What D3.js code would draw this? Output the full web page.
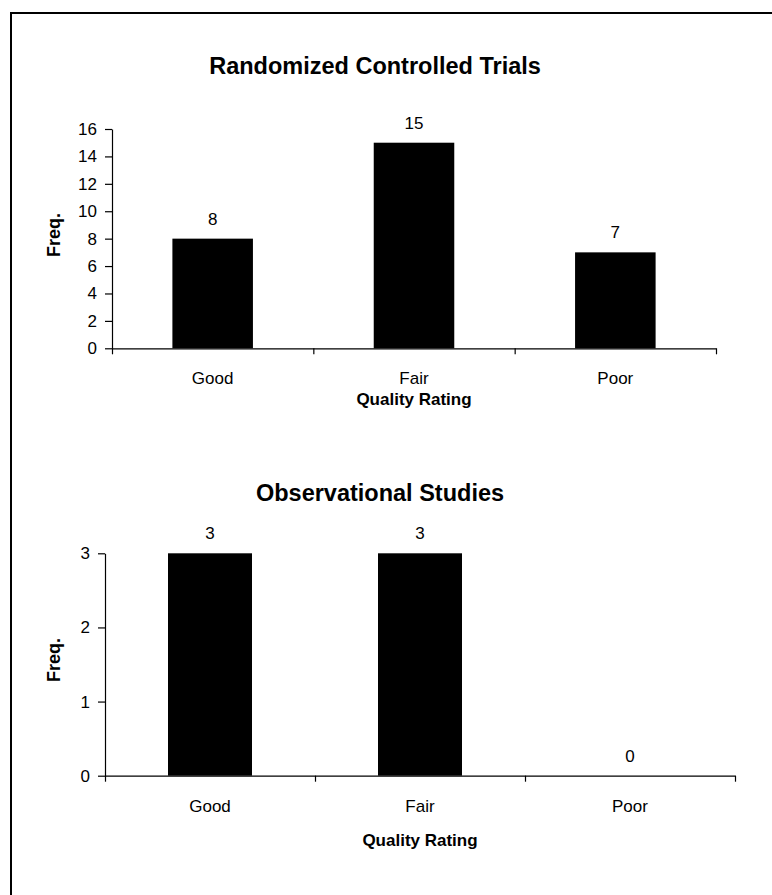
<!DOCTYPE html>
<html>
<head>
<meta charset="utf-8">
<script src="https://cdn.jsdelivr.net/npm/d3@7"></script>
<style>
  body { margin: 0; background: #fff; }
  text { font-family: "Liberation Sans", Arial, sans-serif; fill: #000; }
  .domain, .tick line { stroke: #000; stroke-width: 1.2; }
</style>
</head>
<body>
<div class="chart"></div>
<script>
// chart data
var categories = ["Good", "Fair", "Poor"];
var rctValues = [8, 15, 7];
var obsValues = [3, 3, 0];
var rctTicks = [0, 2, 4, 6, 8, 10, 12, 14, 16];
var obsTicks = [0, 1, 2, 3];

var svg = d3.select(".chart").append("svg").attr("width", 772).attr("height", 895);

// outer frame, right and bottom edges fall outside the picture
svg.append("rect")
  .attr("x", 11).attr("y", 13)
  .attr("width", 900).attr("height", 1000)
  .attr("fill", "none").attr("stroke", "#000").attr("stroke-width", 2);

var drawChart = function(o) {
  var g = svg.append("g");

  var x = d3.scaleBand().domain(categories).range([o.left, o.right]).padding(0);
  var xLin = d3.scaleLinear().domain([0, categories.length]).range([o.left, o.right]);
  var y = d3.scaleLinear().domain([0, d3.max(o.ticks)]).range([o.bottom, o.top]);
  var barW = x.bandwidth() * 0.4;

  g.append("g")
    .attr("transform", "translate(" + o.left + ",0)")
    .call(d3.axisLeft(y).tickValues(o.ticks).tickFormat(d3.format("d")).tickSize(7).tickSizeOuter(0).tickPadding(8))
    .selectAll("text").style("font-size", "17px");

  g.selectAll(".bar")
    .data(o.values)
    .enter().append("rect")
    .attr("class", "bar")
    .attr("x", function(d, i) { return x(categories[i]) + (x.bandwidth() - barW) / 2; })
    .attr("y", function(d) { return y(d); })
    .attr("width", barW)
    .attr("height", function(d) { return o.bottom - y(d); })
    .attr("fill", "#000");

  g.append("g")
    .attr("transform", "translate(0," + o.bottom + ")")
    .call(d3.axisBottom(xLin).tickValues(d3.range(categories.length + 1)).tickFormat("").tickSize(6).tickSizeOuter(0));

  g.selectAll(".val")
    .data(o.values)
    .enter().append("text")
    .attr("x", function(d, i) { return x(categories[i]) + x.bandwidth() / 2; })
    .attr("y", function(d) { return y(d) - 14; })
    .attr("text-anchor", "middle")
    .style("font-size", "17px")
    .text(function(d) { return d; });

  g.selectAll(".cat")
    .data(categories)
    .enter().append("text")
    .attr("x", function(d) { return x(d) + x.bandwidth() / 2; })
    .attr("y", o.bottom + 36)
    .attr("text-anchor", "middle")
    .style("font-size", "17px")
    .text(function(d) { return d; });

  g.append("text")
    .attr("x", (o.left + o.right) / 2)
    .attr("y", o.xTitleY)
    .attr("text-anchor", "middle")
    .style("font-size", "17px").style("font-weight", "bold")
    .text("Quality Rating");

  g.append("text")
    .attr("transform", "translate(" + 60 + "," + o.freqY + ") rotate(-90)")
    .attr("text-anchor", "middle")
    .style("font-size", "18px").style("font-weight", "bold")
    .text("Freq.");

  g.append("text")
    .attr("x", o.titleX)
    .attr("y", o.titleY)
    .attr("text-anchor", "middle")
    .style("font-size", "23.5px").style("font-weight", "bold")
    .text(o.title);
};

drawChart({
  title: "Randomized Controlled Trials", values: rctValues, ticks: rctTicks,
  left: 112, right: 716, top: 129, bottom: 348.3,
  titleX: 375, titleY: 74, xTitleY: 405, freqY: 235
});

drawChart({
  title: "Observational Studies", values: obsValues, ticks: obsTicks,
  left: 105, right: 735, top: 553.3, bottom: 775.7,
  titleX: 380, titleY: 501, xTitleY: 846, freqY: 660
});
</script>
</body>
</html>
